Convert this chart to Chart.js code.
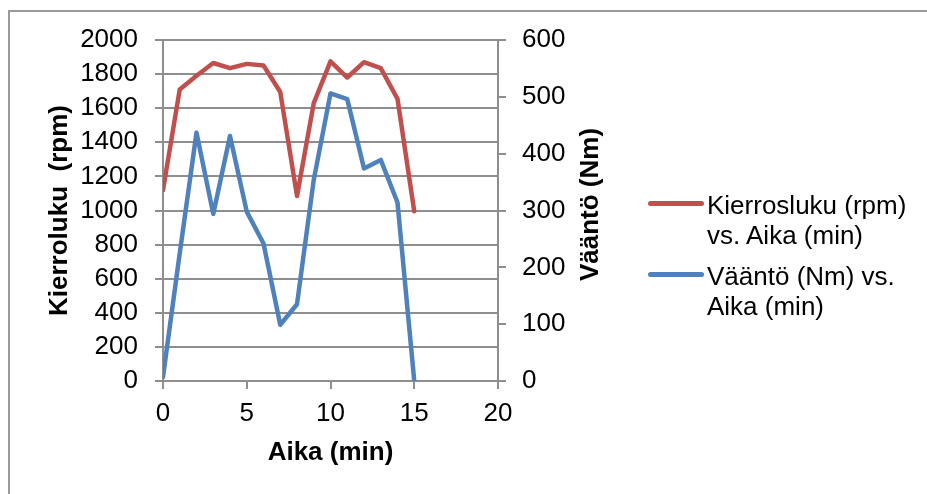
<!DOCTYPE html>
<html>
<head>
<meta charset="utf-8">
<title>Kierrosluku ja vääntö</title>
<script src="https://cdn.jsdelivr.net/npm/chart.js@4.4.1/dist/chart.umd.min.js"></script>
<style>
  html, body { margin: 0; padding: 0; background: #fff; overflow: hidden; }
  body { position: relative; width: 927px; height: 494px; }
  #frame { position: absolute; left: 8px; top: 10px; right: 0; bottom: 0; border-top: 2px solid #9a9a9a; border-left: 2px solid #9a9a9a; }
  #chart { position: absolute; left: 0; top: 0; }
  .legend-line { position: absolute; left: 648px; width: 56px; height: 5px; border-radius: 3px; }
  .legend-text { position: absolute; left: 707px; width: 215px; font: 26px "Liberation Sans", Arial, sans-serif; line-height: 30px; color: #000; }
</style>
</head>
<body>
<div id="frame"></div>
<canvas id="chart" width="927" height="494"></canvas>
<div id="legend"></div>
<script>
// Aika (min)
const minutes = [0, 1, 2, 3, 4, 5, 6, 7, 8, 9, 10, 11, 12, 13, 14, 15];
// Kierrosluku (rpm)
const rpmValues = [1120, 1710, 1790, 1865, 1835, 1860, 1850, 1695, 1085, 1630, 1875, 1780, 1870, 1835, 1655, 995];
// Vääntö (Nm)
const torqueValues = [7, 225, 437, 294, 431, 298, 242, 99, 135, 354, 506, 496, 374, 389, 314, 0];

const seriesLabels = ['Kierrosluku (rpm) vs. Aika (min)', 'Vääntö (Nm) vs. Aika (min)'];
const seriesColors = ['#C0504D', '#4F81BD'];
const leftTitle = 'Kierroluku  (rpm)';
const rightTitleText = 'Vääntö (Nm)';
const bottomTitle = 'Aika (min)';

const FONT = '"Liberation Sans", Arial, sans-serif';
const GRID = '#8e8e8e';

Chart.defaults.font.family = FONT;
Chart.defaults.font.size = 26;
Chart.defaults.color = '#000';

const toPoints = (ys) => minutes.map((x, i) => ({ x: x, y: ys[i] }));
const plain = (v) => String(v);

// the right-hand title reads bottom-to-top, so it is drawn by hand
const rightTitle = {
  id: 'rightTitle',
  afterDraw(chart) {
    const ctx = chart.ctx;
    const area = chart.chartArea;
    const s = chart.scales.y1;
    ctx.save();
    ctx.translate(s.left + 93, (area.top + area.bottom) / 2 - 6);
    ctx.rotate(-Math.PI / 2);
    ctx.font = 'bold 26px ' + FONT;
    ctx.fillStyle = '#000';
    ctx.textAlign = 'center';
    ctx.textBaseline = 'middle';
    ctx.fillText(rightTitleText, 0, 0);
    ctx.restore();
  }
};

const chart = new Chart(document.getElementById('chart'), {
  type: 'line',
  data: {
    datasets: [
      {
        label: seriesLabels[0],
        data: toPoints(rpmValues),
        yAxisID: 'y',
        borderColor: seriesColors[0],
        backgroundColor: seriesColors[0],
        borderWidth: 4.5,
        pointRadius: 0,
        borderJoinStyle: 'round',
        borderCapStyle: 'round',
        tension: 0
      },
      {
        label: seriesLabels[1],
        data: toPoints(torqueValues),
        yAxisID: 'y1',
        borderColor: seriesColors[1],
        backgroundColor: seriesColors[1],
        borderWidth: 4.5,
        pointRadius: 0,
        borderJoinStyle: 'round',
        borderCapStyle: 'round',
        tension: 0
      }
    ]
  },
  options: {
    responsive: false,
    animation: false,
    layout: { padding: { left: 0, top: 40, right: 329, bottom: 0 } },
    plugins: {
      legend: { display: false },
      tooltip: { enabled: false }
    },
    scales: {
      x: {
        type: 'linear',
        min: 0,
        max: 20,
        ticks: { stepSize: 5, padding: 9, maxRotation: 0, autoSkip: false, callback: plain },
        grid: { drawOnChartArea: false, color: GRID, lineWidth: 2, tickLength: 8 },
        border: { color: GRID, width: 2 },
        title: { display: true, text: bottomTitle, font: { size: 26, weight: 'bold' }, padding: { top: 0, bottom: 26 } },
        afterFit(scale) {
          scale.height = 113;
          scale.paddingLeft = 0;
          scale.paddingRight = 0;
        }
      },
      y: {
        position: 'left',
        min: 0,
        max: 2000,
        ticks: { stepSize: 200, padding: 17, autoSkip: false, callback: plain },
        grid: { color: GRID, lineWidth: 2, tickLength: 8 },
        border: { color: GRID, width: 2 },
        title: { display: true, text: leftTitle, font: { size: 26, weight: 'bold' }, padding: { top: 44, bottom: 0 } },
        afterFit(scale) {
          scale.width = 163;
          scale.paddingTop = 0;
          scale.paddingBottom = 0;
        }
      },
      y1: {
        position: 'right',
        min: 0,
        max: 600,
        ticks: { stepSize: 100, padding: 16, autoSkip: false, callback: plain },
        grid: { drawOnChartArea: false, color: GRID, lineWidth: 2, tickLength: 8 },
        border: { color: GRID, width: 2 },
        afterFit(scale) {
          scale.width = 100;
          scale.paddingTop = 0;
          scale.paddingBottom = 0;
        }
      }
    }
  },
  plugins: [rightTitle]
});

// legend to the right of the plot, one entry per dataset
const legendEl = document.getElementById('legend');
const legendTops = [190, 261];
chart.data.datasets.forEach((ds, i) => {
  const line = document.createElement('div');
  line.className = 'legend-line';
  line.style.background = ds.borderColor;
  line.style.top = (legendTops[i] + 11) + 'px';
  const text = document.createElement('div');
  text.className = 'legend-text';
  text.style.top = legendTops[i] + 'px';
  text.textContent = ds.label;
  legendEl.appendChild(line);
  legendEl.appendChild(text);
});
</script>
</body>
</html>
